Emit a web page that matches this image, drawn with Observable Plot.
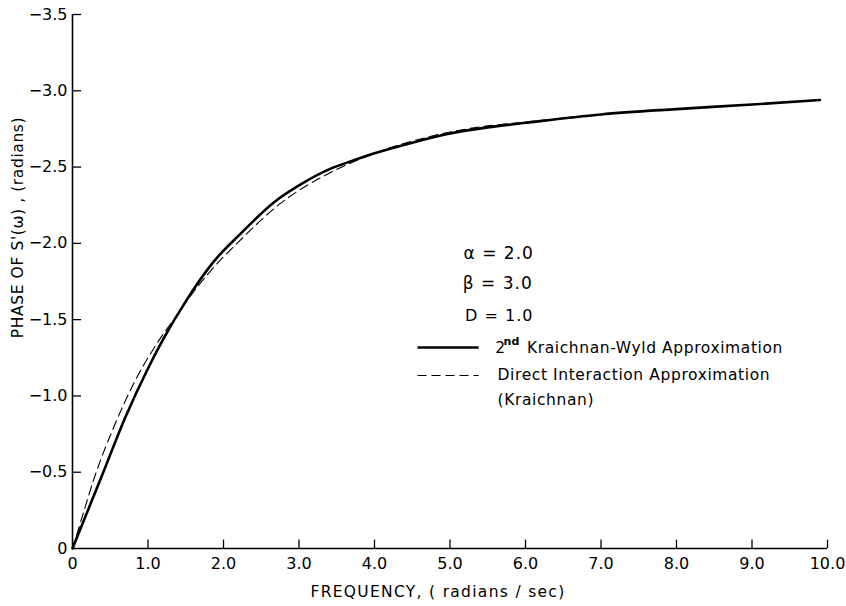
<!DOCTYPE html>
<html>
<head>
<meta charset="utf-8">
<script src="https://cdn.jsdelivr.net/npm/d3@7"></script>
<script src="https://cdn.jsdelivr.net/npm/@observablehq/plot@0.6"></script>
<style>
  html, body { margin: 0; padding: 0; background: #fff; }
  #chart { width: 846px; height: 606px; }
</style>
</head>
<body>
<div id="chart"></div>
<script>
// Frequency (radians/sec) and phase of S'(ω) (radians)
const freqKW  = [0, 0.4, 0.7, 1.0, 1.2, 1.5, 1.87, 2.22, 2.67, 3.0, 3.42, 3.7, 4.0, 4.5, 5.0, 5.5, 6.0, 7.0, 8.0, 9.0, 9.9];
const phaseKW = [0, -0.49, -0.86, -1.18, -1.37, -1.62, -1.88, -2.06, -2.27, -2.38, -2.49, -2.54, -2.59, -2.66, -2.72, -2.76, -2.79, -2.845, -2.88, -2.91, -2.94];

const freqDIA  = [0, 0.13, 0.3, 0.55, 0.83, 1.1, 1.4, 1.6, 1.83, 2.22, 2.75, 3.4, 3.7, 4.0, 4.5, 5.0, 5.5, 6.0, 7.0, 8.0, 9.0, 9.9];
const phaseDIA = [0, -0.21, -0.48, -0.80, -1.10, -1.33, -1.54, -1.68, -1.82, -2.02, -2.26, -2.46, -2.53, -2.59, -2.67, -2.73, -2.77, -2.795, -2.845, -2.88, -2.91, -2.94];

const xTicks = [0, 1, 2, 3, 4, 5, 6, 7, 8, 9, 10];
const yTicks = [0, -0.5, -1.0, -1.5, -2.0, -2.5, -3.0, -3.5];

const seriesNames = ["2nd Kraichnan-Wyld Approximation", "Direct Interaction Approximation"];
const params = ["α = 2.0", "β = 3.0", "D = 1.0"];
const xTitle = "FREQUENCY, ( radians / sec)";
const yTitle = "PHASE OF S'(ω) , (radians)";

const kw = freqKW.map((f, i) => ({f, p: phaseKW[i]}));
const dia = freqDIA.map((f, i) => ({f, p: phaseDIA[i]}));

const fmtX = d => d === 0 ? "0" : d.toFixed(1);
const fmtY = d => d === 0 ? "0" : "\u2212" + Math.abs(d).toFixed(1);

const font = "DejaVu Sans";

const chart = Plot.plot({
  width: 846,
  height: 606,
  marginLeft: 72,
  marginRight: 19,
  marginTop: 14,
  marginBottom: 58,
  style: {fontFamily: font, fontSize: "16px", background: "#fff", color: "#000"},
  x: {domain: [0, 10]},
  y: {domain: [0, -3.5]},
  marks: [
    // axis lines
    Plot.ruleX([0], {stroke: "#000", strokeWidth: 1.6}),
    Plot.ruleY([0], {stroke: "#000", strokeWidth: 1.6}),
    // inward tick marks
    Plot.ruleY(yTicks.slice(1), {y: d => d, x1: 0, x2: 0.12, stroke: "#000", strokeWidth: 1.3}),
    Plot.ruleX(xTicks.slice(1), {x: d => d, y1: 0, y2: -0.055, stroke: "#000", strokeWidth: 1.3}),
    // tick labels
    Plot.axisY(yTicks, {tickSize: 0, tickPadding: 5, tickFormat: fmtY, label: null, fontSize: 16}),
    Plot.axisX(xTicks, {tickSize: 0, tickPadding: 9, tickFormat: fmtX, label: null, fontSize: 16}),
    // axis titles
    Plot.text([xTitle], {frameAnchor: "bottom", dx: -12, dy: 48, fontSize: 15.5}),
    Plot.text([yTitle], {frameAnchor: "left", textAnchor: "middle", rotate: -90, dx: -54, dy: -54, fontSize: 15.5}),
    // curves
    Plot.line(kw, {x: "f", y: "p", stroke: "#000", strokeWidth: 2.6, curve: "monotone-x"}),
    Plot.line(dia, {x: "f", y: "p", stroke: "#000", strokeWidth: 1.1, strokeDasharray: "9,5", curve: "monotone-x"}),
    // parameter annotations
    Plot.text([params[0]], {x: 5.18, y: -1.93, textAnchor: "start", fontSize: 17}),
    Plot.text([params[1]], {x: 5.17, y: -1.735, textAnchor: "start", fontSize: 17}),
    Plot.text([params[2]], {x: 5.2, y: -1.525, textAnchor: "start", fontSize: 16}),
    // legend
    Plot.link([0], {x1: 4.57, x2: 5.38, y1: -1.317, y2: -1.317, stroke: "#000", strokeWidth: 2.4}),
    Plot.link([0], {x1: 4.57, x2: 5.38, y1: -1.134, y2: -1.134, stroke: "#000", strokeWidth: 1.1, strokeDasharray: "9,5"}),
    Plot.text(["2"], {x: 5.6, y: -1.317, textAnchor: "start", fontSize: 15.5}),
    Plot.text(["nd"], {x: 5.71, y: -1.317, dy: -6, textAnchor: "start", fontSize: 11, fontWeight: "bold"}),
    Plot.text([seriesNames[0].slice(4)], {x: 6.02, y: -1.317, textAnchor: "start", fontSize: 15.5}),
    Plot.text([seriesNames[1]], {x: 5.63, y: -1.134, textAnchor: "start", fontSize: 15.5}),
    Plot.text(["(Kraichnan)"], {x: 5.63, y: -0.97, textAnchor: "start", fontSize: 15.5})
  ]
});

// letter spacing to mimic the wide lettering of the original
const spacing = {
  [xTitle]: "1.3px",
  [yTitle]: "0.6px",
  [params[0]]: "1px", [params[1]]: "1px", [params[2]]: "1px",
  [seriesNames[0].slice(4)]: "0.6px",
  [seriesNames[1]]: "0.6px",
  "(Kraichnan)": "0.6px"
};
d3.select(chart).selectAll("text").each(function() {
  const t = this.textContent;
  if (spacing[t]) this.style.letterSpacing = spacing[t];
});

document.getElementById("chart").appendChild(chart);
</script>
</body>
</html>
